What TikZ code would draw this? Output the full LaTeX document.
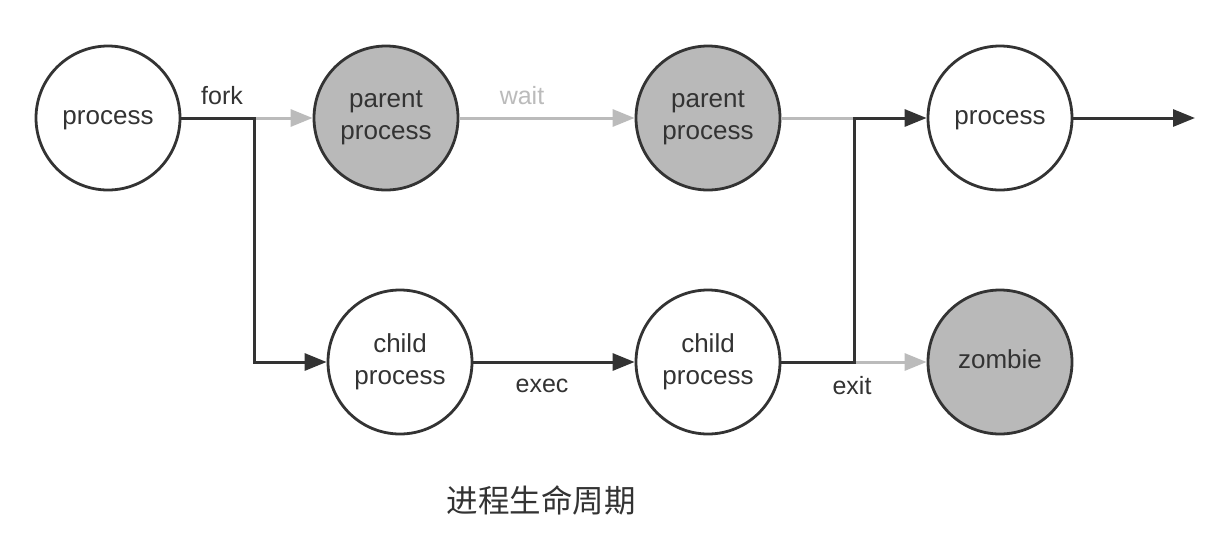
\documentclass[tikz,border=0pt]{standalone}
\usepackage{fontspec}
\setmainfont{Liberation Sans}
\newfontfamily\cjk{Noto Sans CJK SC}
\usepackage{xcolor}
\usetikzlibrary{arrows.meta}

\definecolor{darkink}{HTML}{333333}
\definecolor{lightink}{HTML}{BBBBBB}
\definecolor{shade}{HTML}{B9B9B9}

\tikzset{
  proc/.style={circle,draw=darkink,line width=2.8pt,fill=white,minimum size=144pt,
    inner sep=0pt,align=center,font=\fontsize{26}{32}\selectfont,text=darkink},
  procgrey/.style={proc,fill=shade},
  oneline/.style={text height=13pt,text depth=0pt},
  darkline/.style={draw=darkink,line width=3pt,-{Triangle[length=22pt,width=17pt]}},
  greyline/.style={draw=lightink,line width=3pt,-{Triangle[length=22pt,width=17pt]}},
  lbl/.style={font=\fontsize{25}{30}\selectfont,text=darkink}
}

\begin{document}
\begin{tikzpicture}[x=1pt,y=-1pt]
\useasboundingbox[fill=white] (0,0) rectangle (1218,552);

% top row
\node[proc,oneline] (proc1) at (108,118) {process};
\node[procgrey] (parent1) at (386,118) {parent\\process};
\node[procgrey] (parent2) at (708,118) {parent\\process};
\node[proc,oneline] (proc2) at (1000,118) {process};

% bottom row
\node[proc] (child1) at (400,362) {child\\process};
\node[proc] (child2) at (708,362) {child\\process};
\node[procgrey,oneline] (zombie) at (1000,362) {zombie};

% junction points
\coordinate (forkpt) at (254,118);
\coordinate (joinpt) at (854,118);
\coordinate (exitpt) at (854,362);
\coordinate (endpt) at (1195,118);

% grey arrows first
\draw[greyline] (forkpt) -- (parent1.west);
\draw[greyline] (parent1.east) -- (parent2.west);
\draw[greyline,-] (parent2.east) -- (joinpt);
\draw[greyline] (exitpt) -- (zombie.west);

% dark arrows
\draw[darkline] (proc1.east) -- (forkpt) |- (child1.west);
\draw[darkline] (child1.east) -- (child2.west);
\draw[darkline] (child2.east) -- (exitpt) -- (joinpt) -- (proc2.west);
\draw[darkline] (proc2.east) -- (endpt);

% labels
\node[lbl] (forklbl) at (222,96) {fork};
\node[lbl,text=lightink] (waitlbl) at (522,96) {wait};
\node[lbl] (execlbl) at (542,386) {exec};
\node[lbl] (exitlbl) at (852,386) {exit};

\node[font=\cjk\fontsize{31.5}{36}\selectfont,text=darkink] (caption) at (541,500) {进程生命周期};
\end{tikzpicture}
\end{document}
